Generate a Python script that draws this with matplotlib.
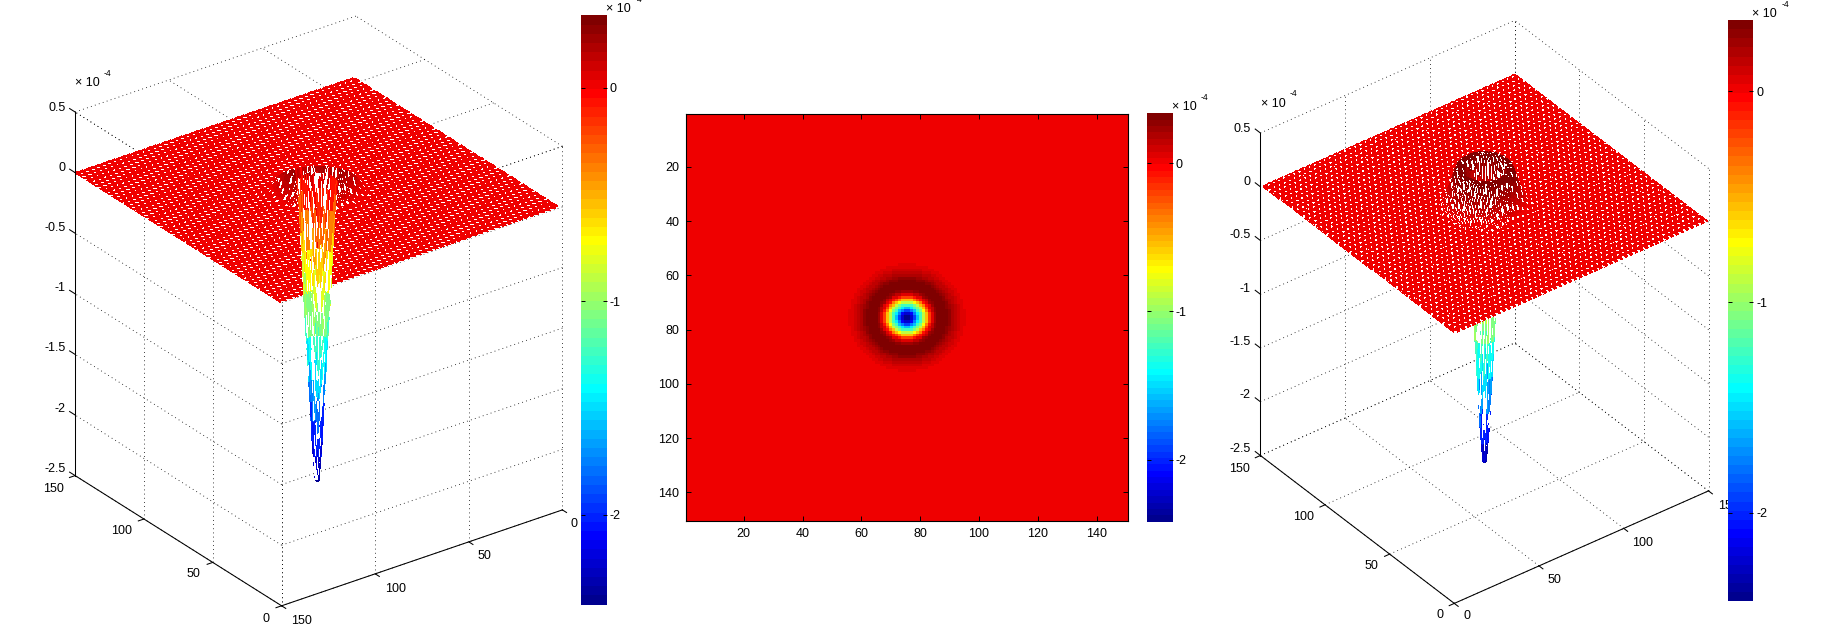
import numpy as np
import matplotlib
matplotlib.use("Agg")
import matplotlib.pyplot as plt
from matplotlib.colors import Normalize, ListedColormap
from matplotlib.cm import ScalarMappable
from mpl_toolkits.mplot3d.art3d import Poly3DCollection

plt.rcParams['font.family'] = ['Liberation Sans', 'DejaVu Sans']
W, H = 1823, 632

# radial section of the surface, in steps of half a grid cell (x 1e-4)
profile = [-2.42, -2.40, -2.33, -2.22, -2.08, -1.93, -1.77, -1.60, -1.44, -1.25,
           -1.06, -0.88, -0.72, -0.55, -0.38, -0.22, -0.06, 0.06, 0.16, 0.23,
           0.28, 0.31, 0.33, 0.335, 0.338, 0.335, 0.33, 0.31, 0.29, 0.26,
           0.235, 0.205, 0.175, 0.15, 0.125, 0.10, 0.08, 0.065, 0.05, 0.04,
           0.03, 0.022, 0.016, 0.011, 0.007, 0.004, 0.002, 0.001, 0.0]
center = 75.5
grid_n = 150
vmin, vmax = -2.42, 0.338
xy_ticks = [0, 50, 100, 150]
z_ticks = [-2.5, -2, -1.5, -1, -0.5, 0, 0.5]
z_labels = ['-2.5', '-2', '-1.5', '-1', '-0.5', '0', '0.5']
img_ticks = [20, 40, 60, 80, 100, 120, 140]
cb_ticks = [-2, -1, 0]
cb_labels = ['-2', '-1', '0']

coords = np.arange(1, grid_n + 1)
X, Y = np.meshgrid(coords, coords)
idx = np.rint(2 * np.hypot(X - center, Y - center)).astype(int)
Z = np.asarray(profile)[np.minimum(idx, len(profile) - 1)]

# the 64-level jet of the original plotting package
f = (np.arange(64) + 1) / 64
cmap = ListedColormap(np.clip(np.stack([
    np.minimum(4 * f - 1.5, -4 * f + 4.5),
    np.minimum(4 * f - 0.5, -4 * f + 3.5),
    np.minimum(4 * f + 0.5, -4 * f + 2.5)], axis=1), 0, 1))
norm = Normalize(vmin, vmax)
sm = ScalarMappable(norm=norm, cmap=cmap)

fig = plt.figure(figsize=(W / 100, H / 100), dpi=100, facecolor='white')
FS = 9
DOT = dict(color='black', lw=0.6, ls=(0, (1, 4)), zorder=1)
SOLID = dict(color='black', lw=0.75, zorder=3)


def ax_rect(x0, y0, x1, y1):
    return [x0 / W, 1 - y1 / H, (x1 - x0) / W, (y1 - y0) / H]


def multiplier(x, y):
    fig.text(x / W, 1 - y / H, '× 10', fontsize=FS, ha='left', va='center')
    fig.text((x + 29) / W, 1 - (y - 10) / H, '-4', fontsize=6.2, ha='left', va='center')


def colorbar(x0, y0, x1, y1):
    cax = fig.add_axes(ax_rect(x0, y0, x1, y1))
    cb = fig.colorbar(sm, cax=cax, ticks=cb_ticks)
    cb.ax.set_yticklabels(cb_labels, fontsize=FS)
    cb.outline.set_visible(False)
    cax.tick_params(axis='y', left=True, right=True, direction='in', length=3.2,
                    width=0.7, pad=2)
    multiplier(x1 - 1, y0 - 6)
    return cax


def panel(left, ox, oy0, ex, ey, ez, far, axis_xy, ylab_off, xlab_off, zlab_x, mult):
    """Orthographic view: ex, ey are the screen steps of the full x and y range, ez per unit z."""
    ax = fig.add_axes(ax_rect(left, 0, left + H, H), projection='3d')
    ax.set_axis_off()
    ax.set_proj_type('ortho')
    ax.patch.set_visible(False)
    ax.computed_zorder = False
    ax.viewLim.intervalx = (left, left + H)
    ax.viewLim.intervaly = (H, 0)
    r1 = np.array([ex[0] / 150, ey[0] / 150, 0.0])
    r2 = np.array([ex[1] / 150, ey[1] / 150, ez])
    d = np.cross([ex[0], ey[0], 0.0], [ex[1], ey[1], 3 * ez])
    d = d / np.linalg.norm(d) * np.array([1 / 150, 1 / 150, 1 / 3]) * 300
    near = np.array([150 - far[0], 150 - far[1], -2 - far[2]])
    if d @ np.array(far) < d @ near:
        d = -d
    M = np.array([[*r1, ox], [*r2, oy0], [*d, 0.0], [0, 0, 0, 1.0]])
    ax.get_proj = lambda: M

    fx, fy, fz = far
    zr = [-2.5, 0.5]
    for v in xy_ticks:
        # verticals on both far walls
        ax.plot([fx, fx], [v, v], zr, **DOT)
        ax.plot([v, v], [fy, fy], zr, **DOT)
        # far horizontal plane
        ax.plot([v, v], [0, 150], [fz, fz], **DOT)
        ax.plot([0, 150], [v, v], [fz, fz], **DOT)
    for z in z_ticks:
        ax.plot([fx, fx], [0, 150], [z, z], **DOT)
        ax.plot([0, 150], [fy, fy], [z, z], **DOT)

    # mesh: white faces with jet edges; a stipple of white-edged cells stands in for the
    # gaps that the original's 1-pixel lines leave between them
    n = grid_n - 1
    verts = np.stack([
        np.stack([X[:-1, :-1], Y[:-1, :-1], Z[:-1, :-1]], -1),
        np.stack([X[:-1, 1:], Y[:-1, 1:], Z[:-1, 1:]], -1),
        np.stack([X[1:, 1:], Y[1:, 1:], Z[1:, 1:]], -1),
        np.stack([X[1:, :-1], Y[1:, :-1], Z[1:, :-1]], -1),
    ], axis=2).reshape(-1, 4, 3)
    edge = cmap(norm(verts[:, :, 2].mean(axis=1)))
    jj, ii = np.meshgrid(np.arange(n), np.arange(n))
    gap = ((ii % 3 == 0) & ((jj + ii // 3) % 3 == 0)).ravel()
    edge[gap] = (1, 1, 1, 1)
    under = Poly3DCollection(verts, facecolors='white', edgecolors='white',
                             linewidths=0.72, antialiaseds=False, zorder=1.5)
    ax.add_collection3d(under, autolim=False)
    poly = Poly3DCollection(verts[:, :3], closed=False, facecolors='white', edgecolors=edge,
                            linewidths=0.3, antialiaseds=False, zorder=2)
    ax.add_collection3d(poly, autolim=False)

    # solid axes
    ax_x, ax_y = axis_xy   # x of the y axis; y of the z axis
    ax.plot([ax_x, ax_x], [0, 150], [-2.5, -2.5], **SOLID)
    ax.plot([0, 150], [0, 0], [-2.5, -2.5], **SOLID)
    zx = 150 - fx if fz == -2.5 else fx
    ax.plot([zx, zx], [150, 150], zr, **SOLID)
    ysign = 1 if ax_x == 150 else -1
    for v in xy_ticks:
        ax.plot([ax_x, ax_x + ysign * 3], [v, v], [-2.5, -2.5], **SOLID)
        ax.plot([v, v], [0, -3], [-2.5, -2.5], **SOLID)
        p = M @ np.array([ax_x, v, -2.5, 1.0])
        ax.annotate(str(v), (p[0], p[1]), xytext=ylab_off[xy_ticks.index(v)],
                    textcoords='offset pixels', fontsize=FS, ha='center', va='center',
                    annotation_clip=False)
        p = M @ np.array([v, 0, -2.5, 1.0])
        ax.annotate(str(v), (p[0], p[1]), xytext=xlab_off[xy_ticks.index(v)],
                    textcoords='offset pixels', fontsize=FS, ha='center', va='center',
                    annotation_clip=False)
    for z, lab in zip(z_ticks, z_labels):
        ax.plot([zx, zx], [150, 154], [z, z], **SOLID)
        p = M @ np.array([zx, 150, z, 1.0])
        ax.annotate(lab, (zlab_x, p[1]), xytext=(0, 4 + (0.5 - z)),
                    textcoords='offset pixels', fontsize=FS, ha='right', va='center',
                    annotation_clip=False)
    multiplier(*mult)
    return ax


# left panel: seen from below
panel(0, 562.4, 509.9 - 2.5 * 121.2, (-280.8, 95.9), (-206.5, -130.2), -121.2,
      far=(150, 0, 0.5), axis_xy=(150, 150),
      ylab_off=[(-15.6, -13), (-19, -12), (-22.7, -12), (-22, -13)],
      xlab_off=[(12, -14), (15.7, -14), (20, -15), (20, -15)],
      zlab_x=65.3, mult=(75, 83))

# right panel: seen from above
panel(W - H, 1454.3, 603.4 - 2.5 * 107.5, (254.2, -112.5), (-193.9, -147.9), -107.5,
      far=(150, 150, -2.5), axis_xy=(0, 150),
      ylab_off=[(-14, -12), (-18, -12), (-21, -12), (-20.7, -14)],
      xlab_off=[(12.7, -13), (15.8, -14.5), (18.4, -15), (20, -15)],
      zlab_x=1250.9, mult=(1261, 104))

# middle panel: image
ax2 = fig.add_axes(ax_rect(686.4, 114, 1127.5, 520.7))
ax2.imshow(Z, cmap=cmap, norm=norm, interpolation='nearest', aspect='auto',
           extent=(0.5, 150.5, 150.5, 0.5))
ax2.set_xticks(img_ticks)
ax2.set_yticks(img_ticks)
ax2.tick_params(top=True, right=True, direction='in', length=3.5, width=0.7,
                labelsize=FS, pad=5)
for s in ax2.spines.values():
    s.set_linewidth(0.8)

colorbar(580.8, 15.3, 607, 604.6)
colorbar(1147.1, 113.3, 1172.5, 521.7)
colorbar(1728, 20.2, 1753.4, 601.4)

fig.savefig('out.png', dpi=100, facecolor='white')
